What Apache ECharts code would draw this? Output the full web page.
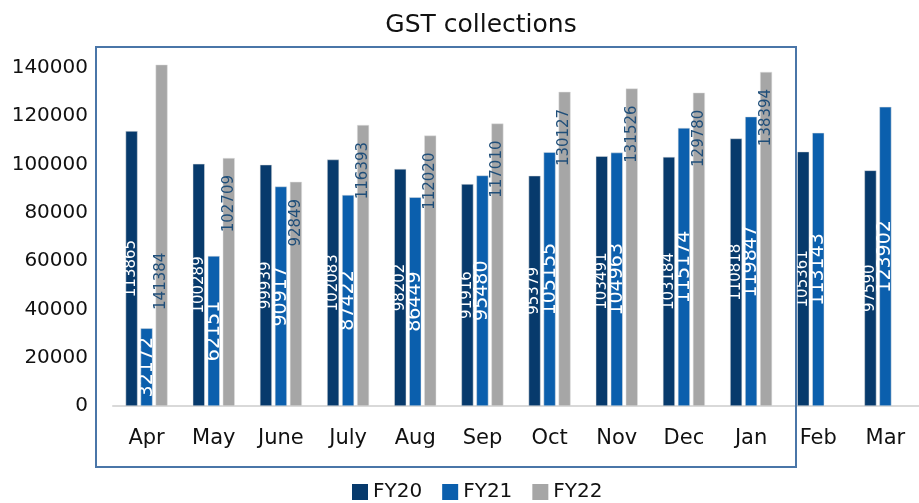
<!DOCTYPE html>
<html>
<head>
<meta charset="utf-8">
<script src="https://cdn.jsdelivr.net/npm/echarts@6/dist/echarts.min.js"></script>
<style>
	html, body {margin: 0; padding: 0; background: #fff;}
	#main {width: 919px; height: 503px;}
</style>
</head>
<body>
<div id="main"></div>
<script>
const months = ['Apr', 'May', 'June', 'July', 'Aug', 'Sep', 'Oct', 'Nov', 'Dec', 'Jan', 'Feb', 'Mar'];
const fy20 = [113865, 100289, 99939, 102083, 98202, 91916, 95379, 103491, 103184, 110818, 105361, 97590];
const fy21 = [32172, 62151, 90917, 87422, 86449, 95480, 105155, 104963, 115174, 119847, 113143, 123902];
const fy22 = [141384, 102709, 92849, 116393, 112020, 117010, 130127, 131526, 129780, 138394, null, null];
const yTicks = [0, 140000, 20000];	// min, max, step

const font = '"DejaVu Sans", sans-serif';
const chart = echarts.init(document.getElementById('main'));

// 柱内数字标签
const innerLabel = (size) => ({
	show: true,
	position: 'inside',
	rotate: 90,
	color: '#fff',
	fontSize: size,
	fontFamily: font
});

const fy22Data = fy22.map((v, i) => {
	if(i === 0) return {value: v, label: {distance: 188}};
	return v;
});

chart.setOption({
	animation: false,
	title: {
		text: 'GST collections',
		left: 476,
		top: 8,
		textAlign: 'center',
		textStyle: {color: '#111', fontSize: 25, fontWeight: 'normal', fontFamily: font}
	},
	legend: {
		data: ['FY20', 'FY21', 'FY22'],
		left: 347,
		top: 477,
		icon: 'rect',
		itemWidth: 16,
		itemHeight: 16,
		itemGap: 20,
		itemStyle: {borderWidth: 0},
		textStyle: {color: '#111', fontSize: 20, fontFamily: font}
	},
	grid: {left: 113, right: -10, top: 68, bottom: 97},
	xAxis: {
		type: 'category',
		data: months,
		axisLine: {lineStyle: {color: '#d9d9d9', width: 2}},
		axisTick: {show: false},
		axisLabel: {color: '#111', fontSize: 21, margin: 22, fontFamily: font}
	},
	yAxis: {
		type: 'value',
		min: yTicks[0],
		max: yTicks[1],
		interval: yTicks[2],
		splitLine: {show: false},
		axisLine: {show: false},
		axisLabel: {color: '#111', fontSize: 20, margin: 25, fontFamily: font, formatter: v => String(v)}
	},
	graphic: [{
		type: 'rect',
		shape: {x: 96, y: 47, width: 700, height: 420},
		style: {fill: 'none', stroke: '#4a76a8', lineWidth: 2},
		z: 100
	}],
	series: [{
		name: 'FY20',
		type: 'bar',
		barWidth: 12,
		barGap: '25%',
		clip: false,
		data: fy20,
		itemStyle: {color: '#073a6c', borderColor: '#e0e0e0', borderWidth: 0.5},
		label: innerLabel(15)
	}, {
		name: 'FY21',
		type: 'bar',
		barWidth: 12,
		barGap: '25%',
		clip: false,
		data: fy21,
		itemStyle: {color: '#0b5fad', borderColor: '#e0e0e0', borderWidth: 0.5},
		label: innerLabel(19)
	}, {
		name: 'FY22',
		type: 'bar',
		barWidth: 12,
		barGap: '25%',
		clip: false,
		data: fy22Data,
		itemStyle: {color: '#a6a6a6', borderColor: '#e0e0e0', borderWidth: 0.5},
		label: {
			show: true,
			position: 'insideTop',
			distance: 17,
			rotate: 90,
			align: 'right',
			verticalAlign: 'middle',
			color: '#1f4e79',
			fontSize: 15,
			fontFamily: font
		}
	}]
});
</script>
</body>
</html>
